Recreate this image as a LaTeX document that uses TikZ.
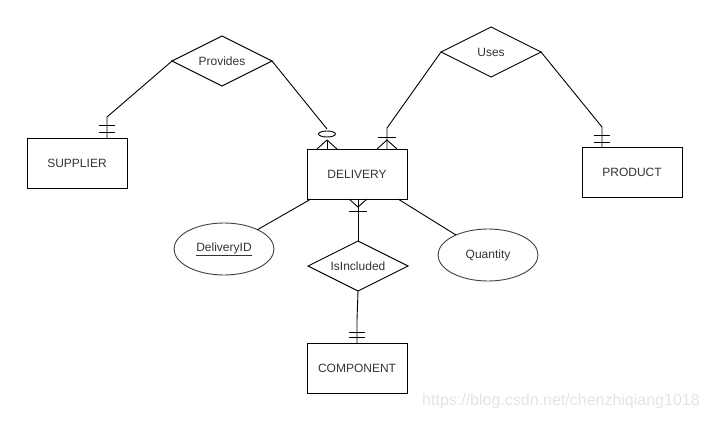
\documentclass[tikz,border=0pt]{standalone}
\usepackage{fontspec}
\setmainfont{Liberation Sans}
\usetikzlibrary{shapes.geometric,calc}
\definecolor{txt}{HTML}{333333}
\definecolor{wm}{HTML}{E4E4E4}
\tikzset{
  ent/.style={draw=black,line width=0.9pt,rectangle,minimum width=100pt,minimum height=50pt,inner sep=0pt,outer sep=0pt,text=txt,font=\fontsize{12pt}{14pt}\selectfont},
  rel/.style={draw=black,line width=0.9pt,diamond,aspect=2,minimum width=100pt,minimum height=50pt,inner sep=0pt,outer sep=0pt,text=txt,font=\fontsize{12pt}{14pt}\selectfont},
  attr/.style={draw=black!75,line width=0.9pt,ellipse,minimum width=100pt,minimum height=52pt,inner sep=0pt,outer sep=0pt,text=txt,font=\fontsize{12pt}{14pt}\selectfont},
  conn/.style={draw=black,line width=0.9pt},
}
\begin{document}
\begin{tikzpicture}[x=1pt,y=-1pt]
\useasboundingbox (0,0) rectangle (708,420);
% entities
\node[ent] (supplier) at (77,163) {SUPPLIER};
\node[ent] (delivery) at (357,174) {DELIVERY};
\node[ent] (product) at (632,172) {PRODUCT};
\node[ent] (component) at (357,368) {COMPONENT};
% relationships
\node[rel] (provides) at (222,61) {Provides};
\node[rel] (uses) at (491,52) {Uses};
\node[rel] (isincl) at (358,266) {IsIncluded};
% attributes
\node[attr] (did) at (224,249) {\underline{DeliveryID}};
\node[attr] (qty) at (488,255) {Quantity};
% helper coordinates
\coordinate (s1) at (107,117);
\coordinate (d1) at (327,129);
\coordinate (d1e) at (327,134);
\coordinate (d1a) at (327,140);
\coordinate (d2) at (387,128);
\coordinate (d2a) at (387,140);
\coordinate (p1) at (602,127);
\coordinate (bapex) at (358,207);
\coordinate (c1) at (357,320);
% Provides - SUPPLIER (one and only one)
\draw[conn] (provides.west) -- (s1) -- (s1 |- supplier.north);
\draw[conn] ($(s1 |- supplier.north)+(-8,-13)$) -- ++(16,0);
\draw[conn] ($(s1 |- supplier.north)+(-8,-6)$) -- ++(16,0);
% Provides - DELIVERY (zero or many)
\draw[conn] (provides.east) -- (d1);
\draw[conn] (d1a) -- (d1a |- delivery.north);
\draw[conn] (d1a) -- ($(d1a |- delivery.north)+(-10,0)$);
\draw[conn] (d1a) -- ($(d1a |- delivery.north)+(10,0)$);
\draw[conn,fill=white] (d1e) ellipse [x radius=8.5, y radius=3];
% Uses - DELIVERY (one or many)
\draw[conn] (uses.west) -- (d2) -- (d2 |- delivery.north);
\draw[conn] ($(d2)+(-9,9)$) -- ++(18,0);
\draw[conn] (d2a) -- ($(d2a |- delivery.north)+(-10,0)$);
\draw[conn] (d2a) -- ($(d2a |- delivery.north)+(10,0)$);
% Uses - PRODUCT (one and only one)
\draw[conn] (uses.east) -- (p1) -- (p1 |- product.north);
\draw[conn] ($(p1 |- product.north)+(-8,-12)$) -- ++(16,0);
\draw[conn] ($(p1 |- product.north)+(-8,-5)$) -- ++(16,0);
% DELIVERY - IsIncluded (one or many)
\draw[conn] (bapex |- delivery.south) -- (isincl.north);
\draw[conn] (bapex) -- ($(bapex |- delivery.south)+(-9,0)$);
\draw[conn] (bapex) -- ($(bapex |- delivery.south)+(9,0)$);
\draw[conn] ($(bapex)+(-9,4)$) -- ++(18,0);
% IsIncluded - COMPONENT (one and only one)
\draw[conn] (isincl.south) -- (c1) -- (c1 |- component.north);
\draw[conn] ($(c1 |- component.north)+(-8,-11)$) -- ++(16,0);
\draw[conn] ($(c1 |- component.north)+(-8,-6)$) -- ++(16,0);
% attributes
\draw[conn] ($(delivery.south west)+(4,0)$) -- (did.30);
\draw[conn] ($(delivery.south east)+(-9,0)$) -- (qty.148);
% watermark
\node[anchor=west,text=wm,font=\fontsize{16pt}{18pt}\selectfont,inner sep=0pt] (wmark) at (422,401) {https://blog.csdn.net/chenzhiqiang1018};
\end{tikzpicture}
\end{document}
